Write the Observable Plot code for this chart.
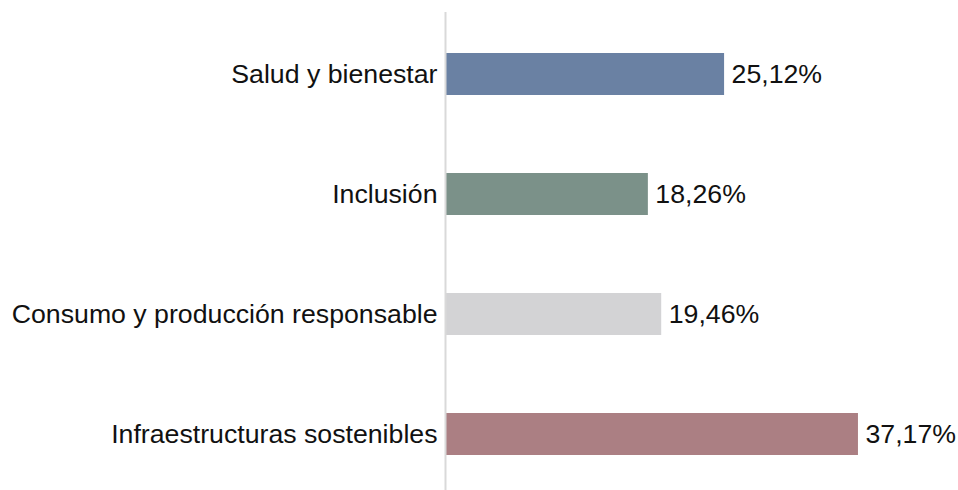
<!DOCTYPE html>
<html>
<head>
<meta charset="utf-8">
<script src="https://cdn.jsdelivr.net/npm/d3@7"></script>
<script src="https://cdn.jsdelivr.net/npm/@observablehq/plot@0.6"></script>
<style>
  html, body { margin: 0; padding: 0; background: #fff; overflow: hidden; }
</style>
</head>
<body>
<div id="chart"></div>
<script>
const categories = ["Salud y bienestar", "Inclusión", "Consumo y producción responsable", "Infraestructuras sostenibles"];
const values = [25.12, 18.26, 19.46, 37.17];
const colors = ["#6a81a3", "#7b9189", "#d3d3d5", "#ab7f83"];

const data = categories.map((c, i) => ({category: c, value: values[i], color: colors[i]}));
const fmt = v => v.toFixed(2).replace(".", ",") + "%";

const chart = Plot.plot({
  width: 958,
  height: 490,
  marginTop: 12,
  marginBottom: 0,
  marginLeft: 445,
  marginRight: 0,
  style: {fontFamily: "'Liberation Sans', Arial, sans-serif", fontSize: "26.7px", color: "#111", background: "#fff"},
  x: {domain: [0, 40], range: [445, 889.4], axis: null},
  y: {domain: categories, range: [12, 495], paddingInner: 0.652, paddingOuter: 0.326, label: null},
  marks: [
    Plot.barX(data, {y: "category", x: "value", fill: "color"}),
    Plot.text(data, {y: "category", x: "value", text: d => fmt(d.value), textAnchor: "start", dx: 7, fill: "#111", fontSize: 26.7}),
    Plot.ruleX([0], {stroke: "#d9d9d9", strokeWidth: 2}),
    Plot.axisY({tickSize: 0, tickPadding: 8, fontSize: 26.7, fill: "#111", label: null})
  ]
});
document.getElementById("chart").appendChild(chart);
</script>
</body>
</html>
